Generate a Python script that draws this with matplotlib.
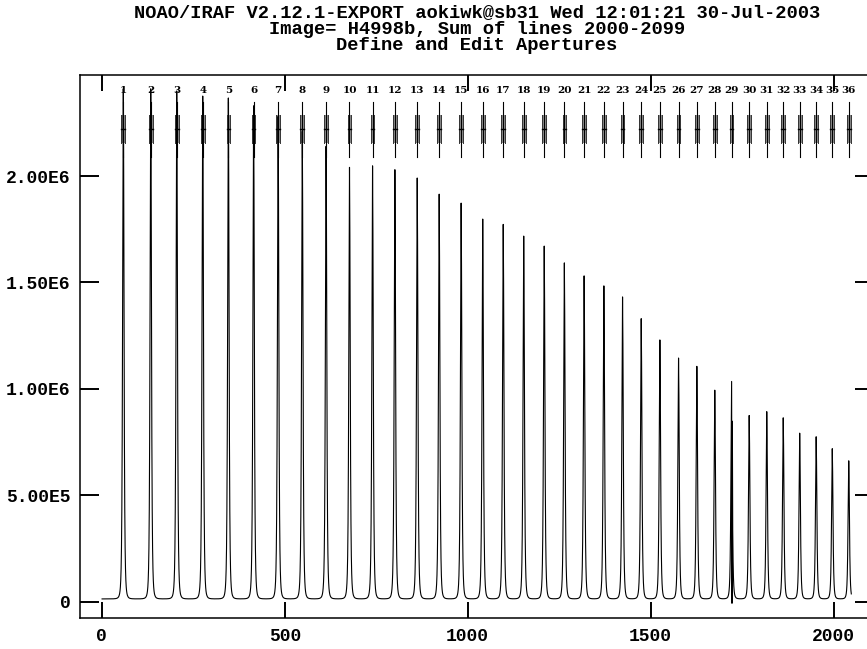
import numpy as np
import matplotlib
matplotlib.use('Agg')
import matplotlib.pyplot as plt

#%% data: apall aperture trace, sum of lines 2000-2099
title_lines = ['NOAO/IRAF V2.12.1-EXPORT aokiwk@sb31 Wed 12:01:21 30-Jul-2003',
               'Image= H4998b, Sum of lines 2000-2099',
               'Define and Edit Apertures']

ap_ids = list(range(1, 37))
# fibre/order centres in columns
centers = [59, 134, 205, 276, 346, 415, 482, 548, 613, 677, 740, 801, 862, 922,
           982, 1041, 1097, 1153, 1209, 1264, 1318, 1372, 1423, 1474, 1525, 1576,
           1626, 1675, 1721, 1769, 1817, 1862, 1907, 1952, 1996, 2041]
# peak counts of each order
peaks = [2.41e6, 2.41e6, 2.40e6, 2.376e6, 2.367e6, 2.33e6, 2.28e6, 2.21e6, 2.14e6,
         2.041e6, 2.048e6, 2.030e6, 1.991e6, 1.915e6, 1.873e6, 1.798e6, 1.773e6,
         1.718e6, 1.671e6, 1.592e6, 1.531e6, 1.484e6, 1.432e6, 1.330e6, 1.230e6,
         1.145e6, 1.106e6, 0.994e6, 1.035e6, 0.875e6, 0.893e6, 0.864e6, 0.792e6,
         0.775e6, 0.719e6, 0.662e6]
baseline = 1.3e4
ncols = 2048
# bad column right on order 29
bad_cols = [1722, 1723]
bad_vals = [-7.5e3, 8.48e5]

xticks = [0, 500, 1000, 1500, 2000]
yticks = [0, 5.0e5, 1.0e6, 1.5e6, 2.0e6]
ylabels = ['0', '5.00E5', '1.00E6', '1.50E6', '2.00E6']

#%% build the profile (Moffat-ish line shape for each order)
cols = np.arange(1, ncols + 1)
flux = np.full(ncols, baseline)
alpha, beta = 3.4, 2.0
for c, h in zip(centers, peaks):
    flux += (h - baseline) * (1 + ((cols - c) / alpha) ** 2) ** (-beta)
for bc, bv in zip(bad_cols, bad_vals):
    flux[bc - 1] = bv

#%%
plt.rcParams['font.family'] = 'Liberation Mono'
plt.rcParams['font.weight'] = 'bold'

W, H = 867, 649
fig = plt.figure(figsize=(W / 100, H / 100), dpi=100)
left, right, top, bottom = 80, 874, 75, 618
ax = fig.add_axes([left / W, 1 - bottom / H, (right - left) / W, (bottom - top) / H])

ax.plot(cols, flux, color='k', lw=0.8)

# aperture markers: centre line, aperture limits and a cross bar
hw = 5
for i, c in zip(ap_ids, centers):
    ax.plot([c, c], [2.090e6, 2.348e6], color='k', lw=0.8)
    ax.fill_between([c - hw, c + hw], 2.156e6, 2.287e6, color='0.55', lw=0)
    ax.plot([c - hw, c - hw], [2.156e6, 2.287e6], color='0.2', lw=0.7)
    ax.plot([c + hw, c + hw], [2.156e6, 2.287e6], color='0.2', lw=0.7)
    ax.plot([c - hw, c + hw], [2.220e6, 2.220e6], color='k', lw=1.0)
    ax.text(c, 2.400e6, str(i), ha='center', va='center', fontsize=7.5,
            fontweight='bold', family='DejaVu Serif')

ax.set_xlim(-59.3, 2110)
ax.set_ylim(-0.0766e6, 2.475e6)
ax.set_xticks(xticks)
ax.set_xticklabels([str(v) for v in xticks])
ax.set_yticks(yticks)
ax.set_yticklabels(ylabels)
ax.tick_params(axis='x', direction='in', length=11.5, width=1.4, top=True,
               labelsize=13, pad=7)
ax.tick_params(axis='y', direction='in', length=13.7, width=1.4, right=True,
               labelsize=13, pad=7)
ax.minorticks_off()
for s in ax.spines.values():
    s.set_linewidth(1.1)

xc = (left + right) / 2 / W
for k, (line, yp) in enumerate(zip(title_lines, [13, 30, 46])):
    fig.text(xc, 1 - yp / H, line, ha='center', va='center', fontsize=13.5)

fig.savefig('out.png', dpi=100)
